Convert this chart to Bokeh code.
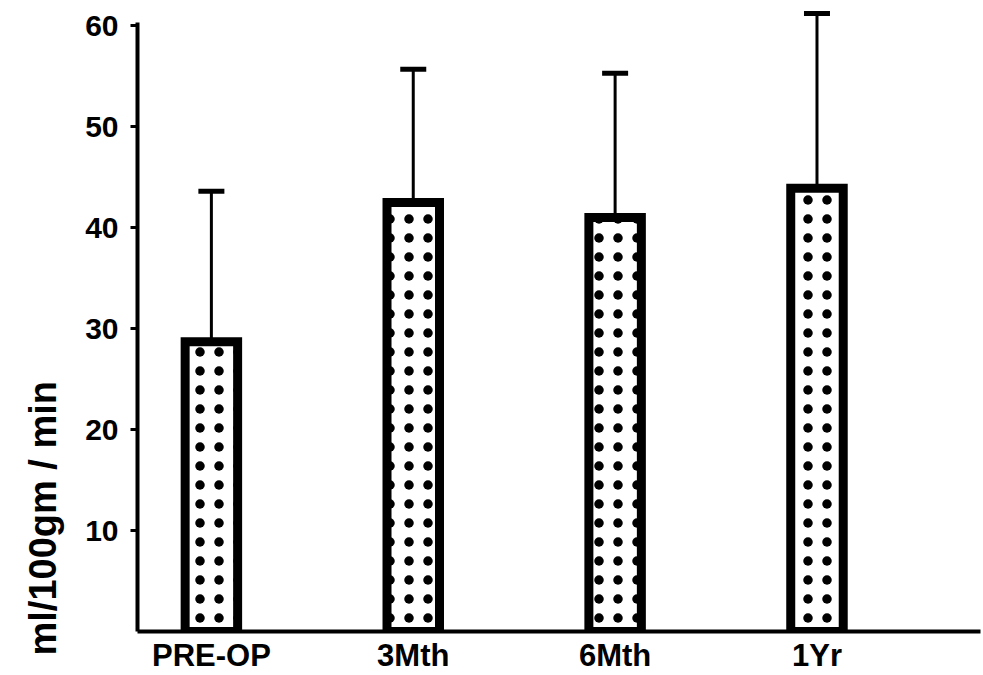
from bokeh.plotting import figure
from bokeh.models import (ColumnDataSource, Range1d, FixedTicker, Whisker, TeeHead, Title)
from bokeh.embed import file_html
from bokeh.resources import INLINE

categories = ["PRE-OP", "3Mth", "6Mth", "1Yr"]
means = [28.7, 42.5, 41.0, 43.9]
upper = [43.6, 55.7, 55.3, 61.2]
lower = [10.7, 29.3, 29.0, 26.6]
y_ticks = [10, 20, 30, 40, 50, 60]
y_label = "ml/100gm / min"

xs = list(range(1, len(categories) + 1))
src = ColumnDataSource(dict(x=xs, top=means, upper=upper, lower=lower))

FONT = "Liberation Sans"

p = figure(width=983, height=675, output_backend="svg", toolbar_location=None,
           x_range=Range1d(0.634, 4.81), y_range=Range1d(0, 62.5),
           min_border_left=137, min_border_right=3, min_border_top=0,
           min_border_bottom=44)
p.outline_line_color = None
p.grid.visible = False
p.background_fill_color = "white"

p.vbar(x="x", top="top", bottom=0, width=0.26, source=src,
       fill_color="white", line_color="black", line_width=9, line_join="miter",
       hatch_pattern="dot", hatch_color="black", hatch_scale=19, hatch_weight=3)

w = Whisker(base="x", upper="upper", lower="lower", source=src,
            line_color="black", line_width=3,
            upper_head=TeeHead(size=26, line_width=5, line_color="black"),
            lower_head=TeeHead(size=24, line_width=5, line_color="black"))
p.add_layout(w)

# y axis
ya = p.yaxis[0]
ya.ticker = FixedTicker(ticks=y_ticks)
ya.bounds = (0, 60.3)
ya.axis_line_width = 4
ya.axis_line_color = "black"
ya.major_tick_in = 0
ya.major_tick_out = 7
ya.major_tick_line_width = 3
ya.minor_tick_line_color = None
ya.major_label_standoff = 12
ya.major_label_text_font = FONT
ya.major_label_text_font_style = "bold"
ya.major_label_text_font_size = "30px"
ya.major_label_text_color = "black"

# x axis
xa = p.xaxis[0]
xa.ticker = FixedTicker(ticks=xs)
xa.major_label_overrides = {x: c for x, c in zip(xs, categories)}
xa.axis_line_width = 4
xa.axis_line_color = "black"
xa.major_tick_in = 0
xa.major_tick_out = 0
xa.minor_tick_line_color = None
xa.major_label_standoff = 6
xa.major_label_text_font = FONT
xa.major_label_text_font_style = "bold"
xa.major_label_text_font_size = "31px"
xa.major_label_text_color = "black"

t = Title(text=y_label, align="left", offset=-24, standoff=38,
          text_font=FONT, text_font_style="bold", text_font_size="38px",
          text_color="black")
p.add_layout(t, "left")

open("out.html", "w").write(file_html(p, INLINE))
